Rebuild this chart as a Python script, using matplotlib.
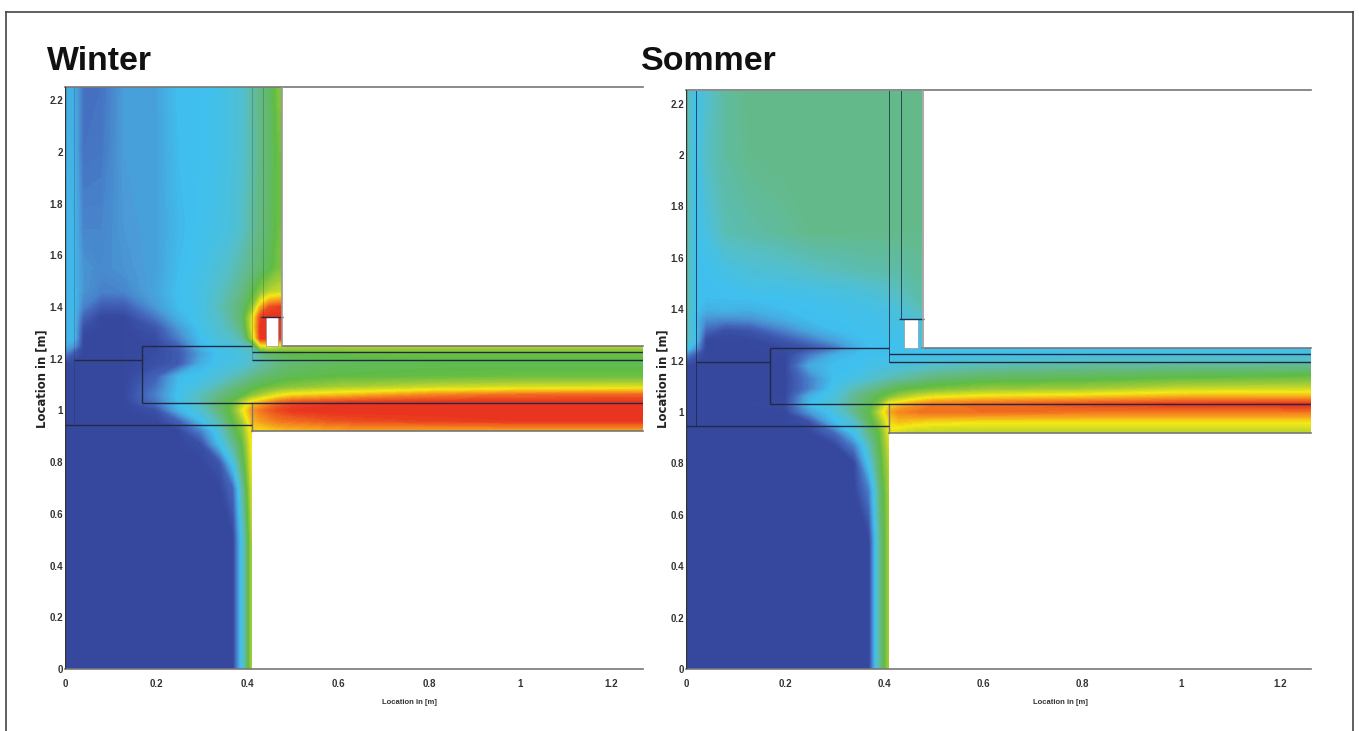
import matplotlib
matplotlib.use("Agg")
import matplotlib.pyplot as plt
from matplotlib.colors import LinearSegmentedColormap
from matplotlib.patches import Polygon, Rectangle
from matplotlib.lines import Line2D

W, H = 1359, 731
plt.rcParams['font.family'] = ['Liberation Sans', 'DejaVu Sans']

titles = ["Winter", "Sommer"]
x_ticks = [0, 0.2, 0.4, 0.6, 0.8, 1, 1.2]
y_ticks = [0, 0.2, 0.4, 0.6, 0.8, 1, 1.2, 1.4, 1.6, 1.8, 2, 2.2]
x_label = "Location in [m]"
y_label = "Location in [m]"

X = [0, .02, .04, .08, .13, .2, .25, .3, .34, .37, .39, .41, .43, .45, .47, .5, .6, .8, 1.0, 1.27]
Y = [0, .5, .7, .8, .87, .92, .96, 1.0, 1.03, 1.06, 1.09, 1.13, 1.18, 1.22, 1.25, 1.28, 1.32, 1.36, 1.4, 1.46, 1.55, 1.7, 2.0, 2.25]

winter = [
 [0,0,0,0,0,0,0,0,0,0,3.5,7,7,7,7,7,7,7,7,7],
 [0,0,0,0,0,0,0,0,0,0,3.5,7,7,7,7,7,7,7,7,7],
 [0,0,0,0,0,0,0,0,0,1,4.5,7.5,7.5,7.5,7.5,7.5,7.5,7.5,7.5,7.5],
 [0,0,0,0,0,0,0,0,.5,3.5,5.5,7.8,7.8,7.8,7.8,7.8,7.8,7.8,7.8,7.8],
 [0,0,0,0,0,0,0,.3,3,4.8,6,8,8,8,8,8,8,8,8,8],
 [0,0,0,0,0,0,0,1.5,3.7,5.5,6.5,8.2,8,8.2,8.3,8.4,8.6,8.6,8.6,8.6],
 [0,0,0,0,0,0,.8,3,4.5,6,7,8.5,8.8,9,9.2,9.3,9.6,9.8,9.9,9.9],
 [0,0,0,0,0,.3,2.6,3.8,5.2,6.4,7.8,8.8,9.2,9.5,9.7,9.9,10,10,10,10],
 [0,0,0,0,0,1.2,3,4.3,5.5,6.2,7.2,8.2,8.6,9,9.4,9.7,9.9,10,10,10],
 [0,0,0,0,0,1.5,3.1,4.2,5,5.5,5.9,6.5,7,7.4,7.8,8.1,8.4,9,9.3,9.4],
 [0,0,0,0,0,1.2,3,3.6,4.4,5,5.4,5.7,6,6.2,6.4,6.6,7,7.4,7.6,7.7],
 [0,0,0,0,0,.8,2.8,3.2,3.7,4.2,4.5,4.9,5.2,5.4,5.6,5.8,6,6.1,6.2,6.2],
 [0,0,0,0,0,.3,.6,2.6,3.2,3.4,3.6,4,4.4,4.7,5,5.3,5.6,5.8,5.8,5.8],
 [1.5,.5,0,0,0,.2,.6,2.2,3.1,3.3,3.5,3.9,5,5.5,5.8,6,6.1,6.2,6.2,6.2],
 [2.5,2,0,0,0,.1,.8,2.8,3.3,3.6,3.9,4.5,7.8,8,7.5,7.2,7.2,7.2,7.2,7.2],
 [2.8,2.8,0,0,0,.2,1.5,3,3.6,4,4.6,7,10,10,10,10,10,10,10,10],
 [2.8,2.8,.3,0,0,.5,2,3.2,3.8,4.5,5.2,7.5,10,10,10,10,10,10,10,10],
 [2.8,2.8,.8,0,0,1.3,2.6,3.3,4,4.8,5.5,7.5,9.8,10,10,10,10,10,10,10],
 [2.8,2.8,1.5,.6,.6,2,2.9,3.3,4.2,4.9,5.4,6.5,8.6,9.6,9.8,9.8,9.8,9.8,9.8,9.8],
 [2.8,2.8,1.9,1.5,1.6,2.3,3,3.3,4,4.6,5,5.7,6.6,7.2,7.4,7.4,7.4,7.4,7.4,7.4],
 [2.8,2.7,1.9,1.7,1.9,2.2,2.9,3.2,3.7,4.2,4.6,5,5.4,5.8,6.4,6.4,6.4,6.4,6.4,6.4],
 [2.8,2.7,1.6,1.6,2,2.2,2.8,3.1,3.3,3.6,4,4.6,5.1,5.5,6.2,6.2,6.2,6.2,6.2,6.2],
 [2.7,2.6,1.2,1.3,2.1,2.2,2.9,3,3.2,3.5,3.8,4.4,5,5.4,6.2,6.2,6.2,6.2,6.2,6.2],
 [2.5,2.5,1.2,1.2,2.1,2.2,3,3,3.2,3.5,3.8,4.5,5,5.5,6.5,6.5,6.5,6.5,6.5,6.5],
]

summer = [
 [0,0,0,0,0,0,0,0,0,0,4.5,7,7,7,7,7,7,7,7,7],
 [0,0,0,0,0,0,0,0,0,0,4.5,7,7,7,7,7,7,7,7,7],
 [0,0,0,0,0,0,0,0,0,1.5,5,7,7,7,7,7,7,7,7,7],
 [0,0,0,0,0,0,0,0,0,3.3,5.5,7.2,7.2,7.2,7.2,7.2,7.2,7.2,7.2,7.2],
 [0,0,0,0,0,0,0,0,1.5,4.2,5.8,7.5,7.5,7.5,7.5,7.5,7.5,7.5,7.5,7.5],
 [0,0,0,0,0,0,0,1,3.2,5,6,7.8,7.5,7.3,7.2,7.2,7.2,7.2,7.2,7.2],
 [0,0,0,0,0,0,.3,2.8,3.8,5.6,6.6,8.1,8.4,8.3,8.2,8.1,8,8,8,8],
 [0,0,0,0,0,0,2,3.4,4.8,5.9,7.3,8.6,9,9.1,9.2,9.3,9.3,9.2,9.2,9.2],
 [0,0,0,0,0,.2,2.9,3.8,5,5.7,6.6,8.1,8.4,8.7,8.9,9.2,9.4,9.7,9.9,10],
 [0,0,0,0,0,0,2.6,3.5,4.8,5.4,5.9,6.4,6.9,7.2,7.5,7.8,8.1,8.3,8.6,8.6],
 [0,0,0,0,0,0,1.5,3.3,4.3,4.8,5.1,5.5,5.8,6,6.1,6.3,6.7,6.9,7.4,7.5],
 [0,0,0,0,0,0,1.5,3,3.3,3.7,4,4.3,4.5,4.7,4.9,5.2,5.6,5.8,6.1,6.3],
 [0,0,0,0,0,0,2.4,3,3,3.2,3.3,3.4,3.5,3.6,3.7,3.9,4.3,4.6,4.7,4.8],
 [1.5,.5,0,0,0,0,1.4,2.6,2.9,3,3,3,3.05,3.1,3.1,3.1,3.1,3.3,3.4,3.4],
 [3.5,2,0,0,0,.1,.4,1.2,2.4,2.9,3,3,3.1,3.1,3.1,3.1,3.1,3.1,3.1,3.1],
 [4.2,3,0,0,0,.5,1.3,2.2,2.8,3,3,3.1,3.1,3.2,3.2,3.2,3.2,3.2,3.2,3.2],
 [4.4,3,1,.3,.5,1.6,2.4,2.9,3,3.1,3.1,3.2,3.2,3.2,3.3,3.3,3.3,3.3,3.3,3.3],
 [4.5,2.7,1.8,1.7,1.8,2.5,2.9,3,3.1,3.2,3.2,3.3,3.4,3.5,3.6,3.6,3.6,3.6,3.6,3.6],
 [4.6,3,2.6,2.7,2.6,2.9,3,3.1,3.2,3.2,3.3,3.3,3.6,3.9,4.2,4.2,4.2,4.2,4.2,4.2],
 [4.6,3,3,3,3.1,3.1,3.2,3.3,3.4,3.6,3.7,3.9,4.1,4.3,4.5,4.5,4.5,4.5,4.5,4.5],
 [4.6,3,3,3.3,3.6,3.8,4,4.2,4.3,4.4,4.4,4.5,4.5,4.6,4.7,4.7,4.7,4.7,4.7,4.7],
 [4.6,3,3.4,4.3,4.5,4.7,4.9,4.9,4.9,4.9,4.9,4.9,4.9,4.9,4.9,4.9,4.9,4.9,4.9,4.9],
 [4.6,3,4,4.6,4.9,5,5,5,5,5,5,5,5,5,5,5,5,5,5,5],
 [4.5,3,3.8,4.6,5,5,5,5,5,5,5,5,5,5,5,5,5,5,5,5],
]

field_colors = ["#36479e", "#4468bd", "#4a9ad6", "#3fc0ee", "#55bfc8", "#64b985",
                "#5fbb46", "#a5cc35", "#f5ea14", "#f58a1f", "#e8301f"]
cmap = LinearSegmentedColormap.from_list("field", field_colors)
levels = [i / 10 for i in range(0, 101)]

outline_x = [0, .41, .41, 1.27, 1.27, .476, .476, 0]
outline_y = [0, 0, .92, .92, 1.25, 1.25, 2.25, 2.25]

panels = [
    dict(data=winter, left=65, right=643, bottom=669, top=87, sx=455, sy=258.6,
         title_x=47, ylabel_x=42, xlabel_x=409, inner_alpha=.25),
    dict(data=summer, left=686, right=1311, bottom=669, top=90, sx=495, sy=257,
         title_x=641, ylabel_x=663, xlabel_x=1060, inner_alpha=.8),
]

fig = plt.figure(figsize=(W / 100, H / 100), dpi=100)

for i, p in enumerate(panels):
    ax = fig.add_axes([p['left'] / W, 1 - p['bottom'] / H,
                       (p['right'] - p['left']) / W, (p['bottom'] - p['top']) / H])
    xmax = (p['right'] - p['left']) / p['sx']
    ymax = (p['bottom'] - p['top']) / p['sy']
    cs = ax.contourf(X, Y, p['data'], levels=levels, cmap=cmap, extend='both')
    clip = Polygon(list(zip(outline_x, outline_y)), closed=True, transform=ax.transData,
                   fc='none', ec='none')
    ax.add_patch(clip)
    cs.set_clip_path(clip)
    ax.set_xlim(0, xmax)
    ax.set_ylim(0, ymax)
    for s in ax.spines.values():
        s.set_visible(False)
    ax.set_xticks(x_ticks)
    ax.set_yticks(y_ticks)
    ax.set_xticklabels([str(t) for t in x_ticks], fontsize=7, color='#333333', fontweight='bold')
    ax.set_yticklabels([str(t) for t in y_ticks], fontsize=7, color='#333333', fontweight='bold')
    ax.tick_params(length=0)
    ax.tick_params(axis='x', pad=7)
    ax.tick_params(axis='y', pad=1.5)

    dark = dict(color='#1f2a44', lw=1.0, solid_capstyle='butt', zorder=5)
    inner = dict(color='#1f2a44', lw=0.7, alpha=p['inner_alpha'], zorder=5)
    ax.plot([.02, .02], [.945, 2.25], **inner)
    ax.plot([0.02, .17], [1.195, 1.195], **dark)
    ax.plot([.17, .17], [1.03, 1.25], **dark)
    ax.plot([.17, .41], [1.25, 1.25], **dark)
    ax.plot([.17, xmax], [1.03, 1.03], **dark)
    ax.plot([0, .41], [.945, .945], **dark)
    ax.plot([.41, xmax], [1.195, 1.195], **dark)
    ax.plot([.41, xmax], [1.226, 1.226], **dark)
    ax.plot([.41, .41], [.92, 1.03], color='#777777', lw=1)
    ax.plot([.41, .41], [1.195, 2.25], **inner)
    ax.plot([.435, .435], [1.36, 2.25], **inner)
    ax.plot([.43, .48], [1.36, 1.36], **dark)

    ax.add_patch(Rectangle((.441, 1.25), .028, .11, fc='white', ec='#888888', lw=.4, zorder=4))

    grey = dict(color='#777777', lw=1.2, clip_on=False, zorder=6)
    ax.plot([0, xmax], [ymax, ymax], **grey)
    ax.plot([0, xmax], [0, 0], **grey)
    ax.plot([.41, xmax], [.92, .92], **grey)
    ax.plot([.476, xmax], [1.25, 1.25], **grey)
    ax.plot([.478, .478], [1.25, ymax], color='#999999', lw=1.2, zorder=6)
    ax.plot([0, 0], [0, ymax], color='#333333', lw=1, zorder=6)

    fig.text(p['title_x'] / W, 1 - 70 / H, titles[i], fontsize=24.4, fontweight='bold',
             color='#111111', ha='left', va='baseline')
    fig.text(p['xlabel_x'] / W, 1 - 702 / H, x_label,
             fontsize=5.5, fontweight='bold', color='#333333', ha='center', va='center')
    fig.text(p['ylabel_x'] / W, 1 - 379 / H, y_label, family='DejaVu Sans', fontsize=8.4,
             fontweight='bold', color='#222222', rotation=90, ha='center', va='center')

for xs, ys in [((6, 6), (12, 731)), ((6, 1353), (12, 12)), ((1353, 1353), (12, 731))]:
    fig.add_artist(Line2D([x / W for x in xs], [1 - y / H for y in ys],
                          color='#444444', lw=1.2))

fig.savefig("out.png", dpi=100)
